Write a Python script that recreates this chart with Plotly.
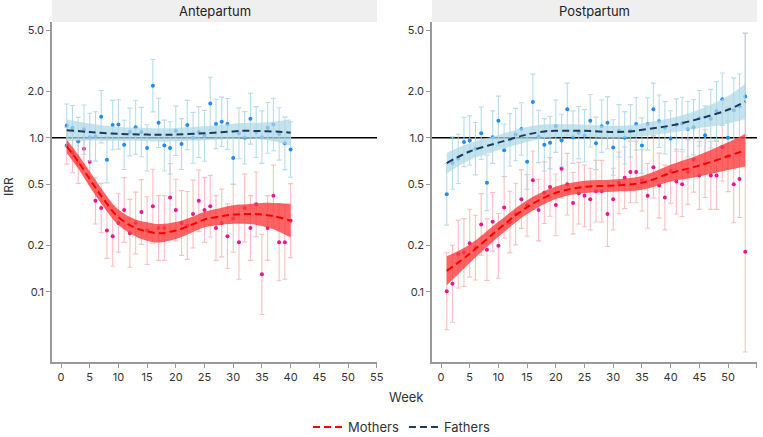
import plotly.graph_objects as go
import numpy as np

# ---------------- data ----------------
weeks_ante = list(range(1, 41))
weeks_post = list(range(1, 54))

fathers_ante = [1.20, 1.16, 0.95, 1.13, 1.01, 1.02, 1.37, 0.72, 1.21, 1.22,
                0.90, 1.09, 1.17, 1.09, 0.86, 2.18, 1.25, 0.89, 0.86, 1.11,
                0.91, 1.21, 1.00, 1.09, 1.03, 1.67, 1.23, 1.27, 1.23, 0.74,
                1.07, 1.00, 1.33, 1.09, 1.01, 1.16, 1.22, 1.06, 0.92, 0.84]
fathers_ante_hw = [0.14, 0.145, 0.155, 0.16, 0.155, 0.16, 0.17, 0.15, 0.16, 0.16,
                   0.16, 0.155, 0.175, 0.16, 0.15, 0.17, 0.16, 0.165, 0.17, 0.16,
                   0.165, 0.16, 0.165, 0.165, 0.165, 0.17, 0.16, 0.16, 0.165, 0.17,
                   0.165, 0.17, 0.165, 0.165, 0.17, 0.165, 0.17, 0.17, 0.17, 0.18]

mothers_ante = [0.89, 0.80, 0.69, 0.85, 0.70, 0.39, 0.35, 0.25, 0.23, 0.28,
                0.34, 0.24, 0.28, 0.33, 0.25, 0.36, 0.26, 0.26, 0.41, 0.34,
                0.28, 0.27, 0.32, 0.39, 0.34, 0.36, 0.26, 0.28, 0.23, 0.30,
                0.21, 0.35, 0.26, 0.37, 0.13, 0.26, 0.42, 0.21, 0.21, 0.29]
mothers_ante_hw = [0.12, 0.13, 0.135, 0.14, 0.145, 0.15, 0.16, 0.18, 0.195, 0.19,
                   0.21, 0.22, 0.20, 0.21, 0.22, 0.24, 0.21, 0.21, 0.22, 0.20,
                   0.21, 0.22, 0.22, 0.20, 0.21, 0.20, 0.21, 0.22, 0.21, 0.22,
                   0.24, 0.22, 0.21, 0.21, 0.26, 0.21, 0.20, 0.25, 0.24, 0.24]

fathers_post = [0.43, 0.685, 0.73, 0.94, 0.96, 0.85, 1.07, 0.51, 1.01, 1.29,
                0.83, 0.97, 1.05, 1.14, 0.70, 1.71, 1.02, 0.90, 0.93, 1.19,
                0.96, 1.53, 1.01, 1.08, 1.03, 1.29, 0.92, 1.19, 1.25, 0.865,
                1.11, 1.00, 1.11, 1.23, 0.89, 1.23, 1.53, 1.28, 1.16, 0.99,
                1.21, 1.24, 1.14, 1.17, 1.34, 1.04, 1.33, 1.49, 1.78, 1.00,
                1.51, 1.60, 1.85]
fathers_post_hw_up = [0.20, 0.17, 0.16, 0.16, 0.16, 0.17, 0.17, 0.18, 0.17, 0.16,
                      0.17, 0.17, 0.17, 0.17, 0.18, 0.18, 0.17, 0.17, 0.17, 0.17,
                      0.17, 0.17, 0.17, 0.17, 0.17, 0.17, 0.17, 0.17, 0.17, 0.18,
                      0.17, 0.17, 0.17, 0.17, 0.18, 0.17, 0.17, 0.17, 0.17, 0.18,
                      0.17, 0.17, 0.18, 0.18, 0.18, 0.19, 0.19, 0.19, 0.17, 0.20,
                      0.21, 0.21, 0.41]
fathers_post_hw_dn = [0.20, 0.17, 0.16, 0.16, 0.16, 0.17, 0.17, 0.18, 0.17, 0.16,
                      0.17, 0.17, 0.17, 0.17, 0.18, 0.18, 0.17, 0.17, 0.17, 0.17,
                      0.17, 0.17, 0.17, 0.17, 0.17, 0.17, 0.17, 0.17, 0.17, 0.18,
                      0.17, 0.17, 0.17, 0.17, 0.18, 0.17, 0.17, 0.17, 0.17, 0.18,
                      0.17, 0.17, 0.18, 0.18, 0.18, 0.19, 0.19, 0.19, 0.17, 0.20,
                      0.21, 0.21, 0.25]

mothers_post = [0.101, 0.113, 0.176, 0.18, 0.207, 0.194, 0.274, 0.188, 0.285, 0.199,
                0.353, 0.284, 0.32, 0.40, 0.364, 0.53, 0.34, 0.44, 0.48, 0.367,
                0.63, 0.50, 0.377, 0.437, 0.42, 0.40, 0.45, 0.45, 0.32, 0.40,
                0.51, 0.55, 0.60, 0.60, 0.53, 0.42, 0.645, 0.49, 0.41, 0.61,
                0.52, 0.50, 0.60, 0.72, 0.57, 0.68, 0.57, 0.57, 0.87, 0.76,
                0.50, 0.54, 0.182]
mothers_post_hw_up = [0.25, 0.25, 0.22, 0.22, 0.22, 0.21, 0.20, 0.20, 0.19, 0.21,
                      0.20, 0.20, 0.20, 0.19, 0.20, 0.19, 0.20, 0.20, 0.19, 0.20,
                      0.19, 0.20, 0.20, 0.20, 0.20, 0.20, 0.20, 0.20, 0.21, 0.20,
                      0.20, 0.20, 0.20, 0.20, 0.20, 0.21, 0.20, 0.21, 0.21, 0.21,
                      0.21, 0.21, 0.21, 0.21, 0.22, 0.22, 0.22, 0.22, 0.22, 0.23,
                      0.25, 0.25, 1.42]
mothers_post_hw_dn = [0.25, 0.25, 0.22, 0.22, 0.22, 0.21, 0.20, 0.20, 0.19, 0.21,
                      0.20, 0.20, 0.20, 0.19, 0.20, 0.19, 0.20, 0.20, 0.19, 0.20,
                      0.19, 0.20, 0.20, 0.20, 0.20, 0.20, 0.20, 0.20, 0.21, 0.20,
                      0.20, 0.20, 0.20, 0.20, 0.20, 0.21, 0.20, 0.21, 0.21, 0.21,
                      0.21, 0.21, 0.21, 0.21, 0.22, 0.22, 0.22, 0.22, 0.22, 0.23,
                      0.25, 0.25, 0.65]

# smooth fits (read at selected weeks) and ribbon half-widths (log10)
fit_m_ante_w = [1, 3, 5, 7, 10, 13, 15, 17, 20, 23, 25, 28, 30, 33, 35, 37, 40]
fit_m_ante = [0.88, 0.70, 0.54, 0.42, 0.305, 0.26, 0.247, 0.24, 0.25, 0.275, 0.295,
              0.31, 0.318, 0.32, 0.318, 0.31, 0.29]
fit_m_ante_hw = [0.045, 0.045, 0.05, 0.05, 0.05, 0.055, 0.06, 0.06, 0.055, 0.05, 0.05,
                 0.055, 0.06, 0.065, 0.075, 0.085, 0.11]

fit_f_ante_w = [1, 5, 10, 15, 17, 20, 25, 30, 32, 35, 38, 40]
fit_f_ante = [1.12, 1.09, 1.06, 1.05, 1.045, 1.05, 1.07, 1.10, 1.11, 1.105, 1.095, 1.08]
fit_f_ante_hw = [0.07, 0.055, 0.045, 0.043, 0.043, 0.043, 0.045, 0.05, 0.05, 0.055, 0.07, 0.087]

fit_f_post_w = [1, 5, 10, 15, 18, 20, 25, 30, 33, 36, 40, 45, 50, 53]
fit_f_post = [0.685, 0.815, 0.93, 1.05, 1.10, 1.11, 1.11, 1.09, 1.10, 1.14, 1.20, 1.33, 1.52, 1.72]
fit_f_post_hw = [0.067, 0.055, 0.05, 0.049, 0.045, 0.042, 0.04, 0.04, 0.04, 0.043, 0.047,
                 0.06, 0.09, 0.114]

fit_m_post_w = [1, 5, 10, 15, 20, 25, 30, 35, 40, 45, 50, 53]
fit_m_post = [0.137, 0.177, 0.255, 0.355, 0.44, 0.48, 0.49, 0.51, 0.59, 0.66, 0.76, 0.83]
fit_m_post_hw = [0.094, 0.06, 0.049, 0.045, 0.04, 0.04, 0.04, 0.045, 0.054, 0.07, 0.09, 0.106]

y_ticks = [0.1, 0.2, 0.5, 1.0, 2.0, 5.0]
y_tick_text = ["0.1", "0.2", "0.5", "1.0", "2.0", "5.0"]
x_ticks = list(range(0, 56, 5))
panel_titles = ["Antepartum", "Postpartum"]

# ---------------- style ----------------
M_PT = "#f0148c"
M_ERR = "rgba(255,170,170,0.75)"
M_BAND = "rgba(255,60,60,0.8)"
M_LINE = "#ff0000"
F_PT = "#1e8cff"
F_ERR = "rgba(170,215,232,0.85)"
F_BAND = "rgba(173,216,230,0.72)"
F_LINE = "#1b3a5e"
FONT = "Inter, Roboto, sans-serif"
DASH = "7px,4px"

fig = go.Figure()


def pts(x, y, up, dn, col, ecol, xa, ya):
    y = np.array(y, float)
    up = np.array(up, float)
    dn = np.array(dn, float)
    hi = y * 10 ** up - y
    lo = y - y / 10 ** dn
    fig.add_trace(go.Scatter(
        x=x, y=y, mode="markers", xaxis=xa, yaxis=ya, showlegend=False,
        marker=dict(size=4, color=col),
        error_y=dict(type="data", symmetric=False, array=hi, arrayminus=lo,
                     color=ecol, thickness=1.1, width=2.5)))


def band(x, y, hw, col, xa, ya):
    y = np.array(y, float)
    hw = np.array(hw, float)
    up = y * 10 ** hw
    dn = y / 10 ** hw
    fig.add_trace(go.Scatter(x=x, y=dn, mode="lines", line=dict(width=0, shape="spline"),
                             xaxis=xa, yaxis=ya, showlegend=False, hoverinfo="skip"))
    fig.add_trace(go.Scatter(x=x, y=up, mode="lines", line=dict(width=0, shape="spline"),
                             fill="tonexty", fillcolor=col,
                             xaxis=xa, yaxis=ya, showlegend=False, hoverinfo="skip"))


def fitline(x, y, col, xa, ya, name=None, rank=1000):
    fig.add_trace(go.Scatter(x=x, y=y, mode="lines", xaxis=xa, yaxis=ya,
                             line=dict(color=col, width=2, dash=DASH, shape="spline"),
                             name=name or "", showlegend=name is not None,
                             legendrank=rank))


# antepartum
pts(weeks_ante, mothers_ante, mothers_ante_hw, mothers_ante_hw, M_PT, M_ERR, "x", "y")
pts(weeks_ante, fathers_ante, fathers_ante_hw, fathers_ante_hw, F_PT, F_ERR, "x", "y")
band(fit_m_ante_w, fit_m_ante, fit_m_ante_hw, M_BAND, "x", "y")
band(fit_f_ante_w, fit_f_ante, fit_f_ante_hw, F_BAND, "x", "y")
fitline(fit_m_ante_w, fit_m_ante, M_LINE, "x", "y", "Mothers", 1)
fitline(fit_f_ante_w, fit_f_ante, F_LINE, "x", "y", "Fathers", 2)

# postpartum
pts(weeks_post, mothers_post, mothers_post_hw_up, mothers_post_hw_dn, M_PT, M_ERR, "x2", "y2")
pts(weeks_post, fathers_post, fathers_post_hw_up, fathers_post_hw_dn, F_PT, F_ERR, "x2", "y2")
band(fit_m_post_w, fit_m_post, fit_m_post_hw, M_BAND, "x2", "y2")
band(fit_f_post_w, fit_f_post, fit_f_post_hw, F_BAND, "x2", "y2")
fitline(fit_m_post_w, fit_m_post, M_LINE, "x2", "y2")
fitline(fit_f_post_w, fit_f_post, F_LINE, "x2", "y2")

W, H = 763, 437
ML, MR, MT, MB = 52, 6, 22, 75
pw = W - ML - MR
ph = H - MT - MB
d1 = [0, 325 / pw]
d2 = [380 / pw, 1]

xcommon = dict(range=[-1.57, 55.05], tickvals=x_ticks, showline=True, linecolor="#9a9a9a",
               linewidth=1.5, ticks="outside", ticklen=4, tickcolor="#9a9a9a",
               showgrid=False, zeroline=False, tickfont=dict(size=11, color="#333"))
ycommon = dict(type="log", range=[np.log10(0.0351), np.log10(5.64)], tickvals=y_ticks,
               ticktext=y_tick_text, showline=True, linecolor="#9a9a9a", linewidth=1.5,
               ticks="outside", ticklen=4, tickcolor="#9a9a9a", showgrid=False,
               zeroline=False, tickfont=dict(size=11, color="#333"))

shapes = []
annotations = []
for i, (xa, ya) in enumerate([("x", "y"), ("x2", "y2")]):
    shapes.append(dict(type="line", xref=f"{xa} domain", x0=0, x1=1, yref=ya, y0=1, y1=1,
                       line=dict(color="black", width=1.5), layer="below"))
    shapes.append(dict(type="rect", xref=f"{xa} domain", x0=0, x1=1, yref=f"{ya} domain",
                       y0=1.0, y1=1 + 22 / ph, fillcolor="#efefef", line=dict(width=0),
                       layer="below"))
    annotations.append(dict(text=panel_titles[i], xref=f"{xa} domain", x=0.5,
                            yref=f"{ya} domain", y=1 + 11 / ph, yanchor="middle",
                            showarrow=False, font=dict(size=13, color="#222", family=FONT)))

annotations.append(dict(text="Week", xref="paper", x=(406 - ML) / pw, yref="paper",
                        y=(ph + MT - 397) / ph, yanchor="middle", showarrow=False,
                        font=dict(size=13, color="#333", family=FONT)))
annotations.append(dict(text="IRR", xref="paper", x=(8 - ML) / pw, xanchor="center",
                        yref="paper", y=(ph + MT - 187) / ph, yanchor="middle",
                        textangle=-90, showarrow=False,
                        font=dict(size=12, color="#333", family=FONT)))

fig.update_layout(
    width=W, height=H, margin=dict(l=ML, r=MR, t=MT, b=MB, autoexpand=False),
    paper_bgcolor="white", plot_bgcolor="white",
    font=dict(family=FONT, color="#333"),
    xaxis=dict(domain=d1, anchor="y", **xcommon),
    yaxis=dict(domain=[0, 1], anchor="x", **ycommon),
    xaxis2=dict(domain=d2, anchor="y2", **xcommon),
    yaxis2=dict(domain=[0, 1], anchor="x2", **ycommon),
    shapes=shapes, annotations=annotations,
    legend=dict(orientation="h", x=(402 - ML) / pw, xanchor="center",
                yref="paper", y=(ph + MT - 427) / ph, yanchor="middle",
                traceorder="normal",
                font=dict(size=13, color="#333", family=FONT), bgcolor="rgba(0,0,0,0)"),
    showlegend=True,
)

fig.write_html("out.html")
